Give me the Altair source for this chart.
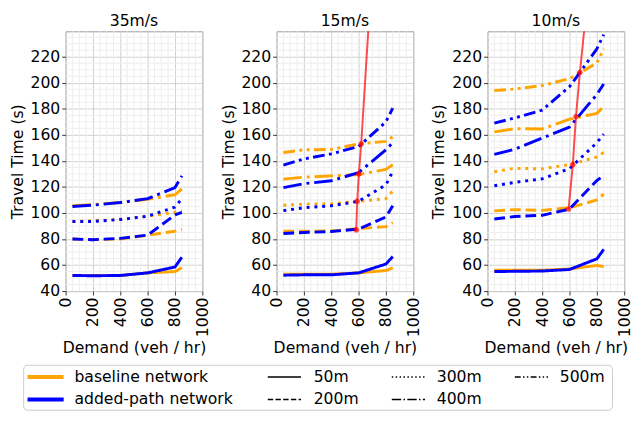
import altair as alt
import pandas as pd

# ---------------- data ----------------
demand = [50, 200, 400, 600, 800, 850]
speeds = ["35m/s", "15m/s", "10m/s"]
lengths = ["50m", "200m", "300m", "400m", "500m"]
networks = ["baseline network", "added-path network"]

# 35 m/s
base35_50 = [52, 52, 52, 54, 55, 58]
base35_200 = [80, 79.5, 80, 83, 86, 87.5]
base35_300 = [93.5, 94, 95, 97.5, 100.5, 102]
base35_400 = [105.5, 106.5, 108, 110.5, 114, 118.5]
add35_50 = [52, 51.8, 52, 54, 58.5, 66]
add35_200 = [80, 79.5, 80.5, 83, 98.5, 100.5]
add35_300 = [93.5, 93.5, 95, 97.5, 104.5, 111]
add35_400 = [105, 106, 108, 111, 119.5, 128.5]

# 15 m/s
base15_50 = [53, 53, 53, 54, 55.8, 57.8]
base15_200 = [86, 86, 86.2, 88, 89.5, 92.5]
base15_300 = [106, 106.8, 107, 109, 111, 117]
base15_400 = [126, 127.5, 128.5, 129.5, 133.5, 137]
base15_500 = [146.5, 148.5, 148.8, 153, 155, 158.5]
add15_50 = [52.2, 52.5, 52.5, 54, 60.8, 66.5]
add15_200 = [84.2, 85, 85.8, 87.6, 97, 105.5]
add15_300 = [101.8, 104, 105.5, 109, 121.5, 132]
add15_400 = [119.5, 122.5, 124.7, 131, 148.5, 154]
add15_500 = [136.8, 141.5, 145.4, 151, 170, 180.5]

# 10 m/s
base10_50 = [56, 56, 56, 57, 59.7, 58.8]
base10_200 = [101.6, 102.6, 102, 104, 110, 114.5]
base10_300 = [131.7, 134.3, 133.9, 137.2, 143, 146.5]
base10_400 = [162.3, 164.7, 164.5, 172, 176.5, 182]
base10_500 = [194, 195.2, 197.9, 203.2, 215.2, 226]
add10_50 = [55, 55.2, 55.4, 56.6, 64.8, 72]
add10_200 = [95.4, 97.3, 98.2, 103, 125, 128.6]
add10_300 = [120.9, 123.5, 126.2, 134, 154, 160.5]
add10_400 = [145, 149, 157.5, 166, 191, 199]
add10_500 = [169, 173, 179, 197, 226, 237]

# red crossing lines
red15_demand = [583, 590, 602, 619, 671]
red15_time = [87, 109, 130, 153, 240]
red10_demand = [593, 624, 647, 676, 707]
red10_time = [103, 137, 174, 208, 240]

x_ticks = [0, 200, 400, 600, 800, 1000]
y_ticks = [40, 60, 80, 100, 120, 140, 160, 180, 200, 220]
x_minor = [v for v in range(50, 1000, 50) if v % 200 != 0]
y_minor = [v for v in range(45, 240, 5) if v % 20 != 0]

series = {
    "35m/s": {
        "baseline network": {"50m": base35_50, "200m": base35_200, "300m": base35_300, "400m": base35_400},
        "added-path network": {"50m": add35_50, "200m": add35_200, "300m": add35_300, "400m": add35_400},
    },
    "15m/s": {
        "baseline network": {"50m": base15_50, "200m": base15_200, "300m": base15_300, "400m": base15_400, "500m": base15_500},
        "added-path network": {"50m": add15_50, "200m": add15_200, "300m": add15_300, "400m": add15_400, "500m": add15_500},
    },
    "10m/s": {
        "baseline network": {"50m": base10_50, "200m": base10_200, "300m": base10_300, "400m": base10_400, "500m": base10_500},
        "added-path network": {"50m": add10_50, "200m": add10_200, "300m": add10_300, "400m": add10_400, "500m": add10_500},
    },
}
red = {"15m/s": (red15_demand, red15_time), "10m/s": (red10_demand, red10_time)}

rows = []
for sp, nets in series.items():
    for net, lens in nets.items():
        for ln, vals in lens.items():
            for d, t in zip(demand, vals):
                rows.append({"speed": sp, "network": net, "length": ln, "demand": d, "time": t})
df = pd.DataFrame(rows)

# ---------------- styles ----------------
FONT = "DejaVu Sans"
FS = 16
colors = ["#FFA500", "#0000FF"]
dashes = [[1, 0], [11, 5], [3, 5], [19, 5, 3, 5], [12, 4.5, 3, 4.5, 3, 4.5]]
PW, PH = 140, 266

xscale = alt.Scale(domain=[0, 1000], nice=False, zero=False)
yscale = alt.Scale(domain=[40, 239.5], nice=False, zero=False)
xaxis = alt.Axis(values=x_ticks, format="d", title="Demand (veh / hr)", labelAngle=270, grid=True,
                 gridColor="#d0d0d0", labelFontSize=FS, titleFontSize=FS, titleFontWeight="normal",
                 tickSize=4, labelPadding=2, titlePadding=3, domain=False, tickColor="#333",
                 labelColor="#000", titleColor="#000", labelFlush=False, labelOverlap=False)
yaxis = alt.Axis(values=y_ticks, format="d", title="Travel Time (s)", grid=True, gridColor="#d0d0d0",
                 labelFontSize=FS, titleFontSize=FS, titleFontWeight="normal", tickSize=4,
                 labelPadding=2, titlePadding=5, domain=False, tickColor="#333",
                 labelColor="#000", titleColor="#000", labelFlush=False, labelOverlap=False)
X = alt.X("demand:Q", scale=xscale, axis=xaxis)
Y = alt.Y("time:Q", scale=yscale, axis=yaxis)
color = alt.Color("network:N", scale=alt.Scale(domain=networks, range=colors), legend=None)
dash = alt.StrokeDash("length:N", scale=alt.Scale(domain=lengths, range=dashes), legend=None)


def panel(sp):
    d = df[df.speed == sp]
    minor_x = alt.Chart(pd.DataFrame({"demand": x_minor})).mark_rule(color="#eeeeee", strokeWidth=1).encode(x=X)
    minor_y = alt.Chart(pd.DataFrame({"time": y_minor})).mark_rule(color="#eeeeee", strokeWidth=1).encode(y=Y)
    layers = [minor_x, minor_y]
    for net in networks:
        layers.append(
            alt.Chart(d[d.network == net]).mark_line(strokeWidth=3, strokeJoin="round").encode(
                x=X, y=Y, color=color, strokeDash=dash, detail="length:N"
            )
        )
    if sp in red:
        rx, ry = red[sp]
        rdf = pd.DataFrame({"demand": rx, "time": ry})
        layers.append(alt.Chart(rdf).mark_line(color="red", opacity=0.7, strokeWidth=2, clip=True).encode(x=X, y=Y))
        layers.append(alt.Chart(rdf.iloc[:-1]).mark_point(color="red", filled=True, opacity=0.7, size=30).encode(x=X, y=Y))
    return alt.layer(*layers).properties(
        width=PW, height=PH,
        title=alt.Title(sp, fontSize=FS, fontWeight="normal", font=FONT, offset=2, color="#000"),
        view=alt.ViewBackground(stroke="#999999", strokeWidth=1),
    )


panels = alt.hconcat(*[panel(s) for s in speeds], spacing=8)

# ---------------- legend (box built from layout lists) ----------------
# legend coordinates are measured from the left edge of the figure group;
# the legend view itself starts where the first panel's plot area starts.
AXW = 59                      # approx. width of the first panel's y-axis block
LW, LH = 622, 48
lx = alt.Scale(domain=[AXW, LW], nice=False, zero=False)
ly = alt.Scale(domain=[0, LH], nice=False, zero=False, reverse=True)

leg_box = pd.DataFrame({"x0": [16], "x1": [619], "y0": [1], "y1": [47]})
leg_row_y = [13, 36]
net_line_x = (20, 57)
net_text_x = 68
len_line_x0 = [266, 266, 393, 393, 519]
len_line_x1 = [300, 300, 427, 427, 553]
len_text_x = [313, 313, 439, 439, 565]
len_row = [0, 1, 0, 1, 0]
small_dashes = [[1, 0], [5.5, 2.4], [1.5, 2.5], [9.6, 2.4, 1.5, 2.4], [6, 2.4, 1.5, 2.4, 1.5, 2.4]]

leg_layers = [
    alt.Chart(leg_box).mark_rect(fill="white", stroke="#cccccc", strokeWidth=1, cornerRadius=4).encode(
        x=alt.X("x0:Q", scale=lx, axis=None), x2="x1:Q",
        y=alt.Y("y0:Q", scale=ly, axis=None), y2="y1:Q")
]
for i, net in enumerate(networks):
    e = pd.DataFrame({"x0": [net_line_x[0]], "x1": [net_line_x[1]], "tx": [net_text_x],
                      "y": [leg_row_y[i]], "label": [net]})
    leg_layers.append(alt.Chart(e).mark_rule(color=colors[i], strokeWidth=4).encode(
        x=alt.X("x0:Q", scale=lx, axis=None), x2="x1:Q", y=alt.Y("y:Q", scale=ly, axis=None)))
    leg_layers.append(alt.Chart(e).mark_text(align="left", baseline="middle", fontSize=FS, font=FONT,
                                             color="#000").encode(
        x=alt.X("tx:Q", scale=lx, axis=None), y=alt.Y("y:Q", scale=ly, axis=None), text="label:N"))
for i, ln in enumerate(lengths):
    e = pd.DataFrame({"x0": [len_line_x0[i]], "x1": [len_line_x1[i]], "tx": [len_text_x[i]],
                      "y": [leg_row_y[len_row[i]]], "label": [ln]})
    leg_layers.append(alt.Chart(e).mark_rule(color="black", strokeWidth=1.5, strokeDash=small_dashes[i]).encode(
        x=alt.X("x0:Q", scale=lx, axis=None), x2="x1:Q", y=alt.Y("y:Q", scale=ly, axis=None)))
    leg_layers.append(alt.Chart(e).mark_text(align="left", baseline="middle", fontSize=FS, font=FONT,
                                             color="#000").encode(
        x=alt.X("tx:Q", scale=lx, axis=None), y=alt.Y("y:Q", scale=ly, axis=None), text="label:N"))

legend = alt.layer(*leg_layers).properties(width=LW - AXW, height=LH, view=alt.ViewBackground(stroke=None))

chart = alt.vconcat(panels, legend, spacing=8).properties(padding=0).configure(
    font=FONT
).configure_view(stroke=None)

chart.save("out.html", embed_options={"renderer": "svg", "actions": False})
